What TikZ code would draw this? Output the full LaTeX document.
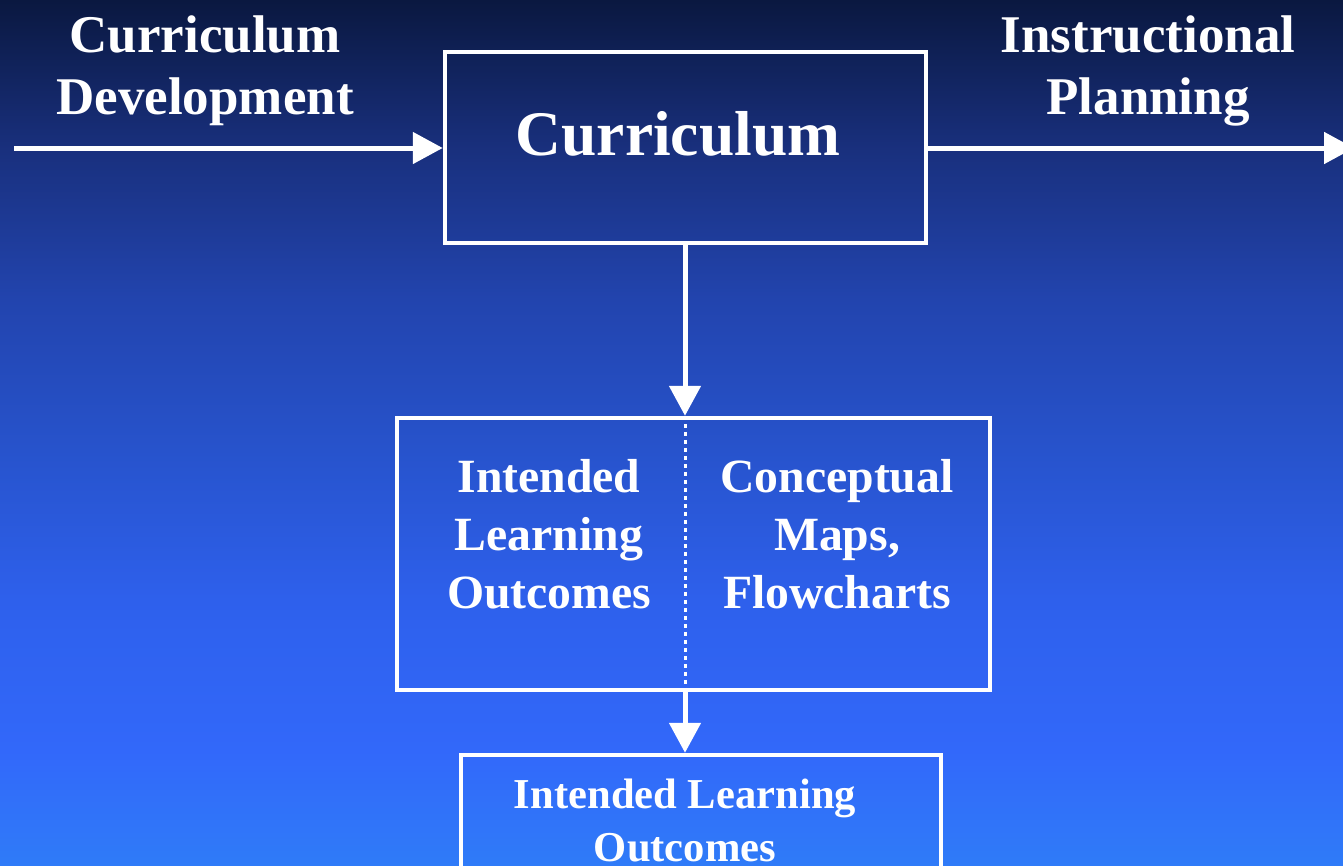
\documentclass[tikz,border=0pt]{standalone}
\usepackage{fontspec}
\setmainfont{Liberation Serif}
\usepackage{tikz}
\usetikzlibrary{arrows.meta}

\definecolor{bgA}{HTML}{0A1840}
\definecolor{bgB}{HTML}{19307E}
\definecolor{bgC}{HTML}{2244AE}
\definecolor{bgD}{HTML}{2753CC}
\definecolor{bgE}{HTML}{2E60EC}
\definecolor{bgF}{HTML}{3268FA}
\definecolor{bgG}{HTML}{2F7BF8}
\pgfdeclareverticalshading{slide}{100bp}{color(0bp)=(bgG); color(25bp)=(bgG);
  color(31.6bp)=(bgF); color(40.3bp)=(bgE); color(49bp)=(bgD);
  color(57.7bp)=(bgC); color(66.3bp)=(bgB); color(75bp)=(bgA); color(100bp)=(bgA)}

\tikzset{
  box/.style={draw=white, line width=4.5pt, rectangle, inner sep=0pt},
  lbl/.style={text=white, align=center, inner sep=0pt},
  flow/.style={white, line width=5pt, -{Triangle[length=30pt,width=31pt]}}
}

\begin{document}
\begin{tikzpicture}[x=1pt, y=-1pt]
    \shade[shading=slide] (0,0) rectangle (1343,865);
    \useasboundingbox (0,0) rectangle (1343,865);

    \node[box, minimum width=481pt, minimum height=191pt] at (685.5,147.5) (cur) {};
    \node[lbl, font=\bfseries\fontsize{63.5}{70}\selectfont] at (678,134) (curtext) {Curriculum};
    \node[box, minimum width=593pt, minimum height=272pt] at (693.5,554) (mid) {};
    \node[box, minimum width=480pt, minimum height=150pt] at (701,830) (out) {};

    \node[lbl, font=\bfseries\fontsize{53}{62}\selectfont] at (205,71) (dev) {Curriculum\\Development};
    \node[lbl, font=\bfseries\fontsize{53}{62}\selectfont] at (1148,71) (plan) {Instructional\\Planning};
    \node[lbl, font=\bfseries\fontsize{47.7}{58}\selectfont] at (549,534) (ilo) {Intended\\Learning\\Outcomes};
    \node[lbl, font=\bfseries\fontsize{47.7}{58}\selectfont] at (837,534) (maps) {Conceptual\\Maps,\\Flowcharts};
    \node[lbl, font=\bfseries\fontsize{42.6}{53}\selectfont] at (685,820) (outtext) {Intended Learning\\Outcomes};

    \coordinate (in) at (14,148);
    \coordinate (away) at (1354,148);
    \coordinate (top) at (685,243);

    \draw[flow] (in) -- (in -| cur.west);
    \draw[flow] (away -| cur.east) -- (away);
    \draw[flow] (top) -- (top |- mid.north);
    \draw[white, line width=3pt, dash pattern=on 4pt off 4pt] (top |- mid.north) -- (top |- mid.south);
    \draw[flow] (top |- mid.south) -- (top |- out.north);
\end{tikzpicture}
\end{document}
